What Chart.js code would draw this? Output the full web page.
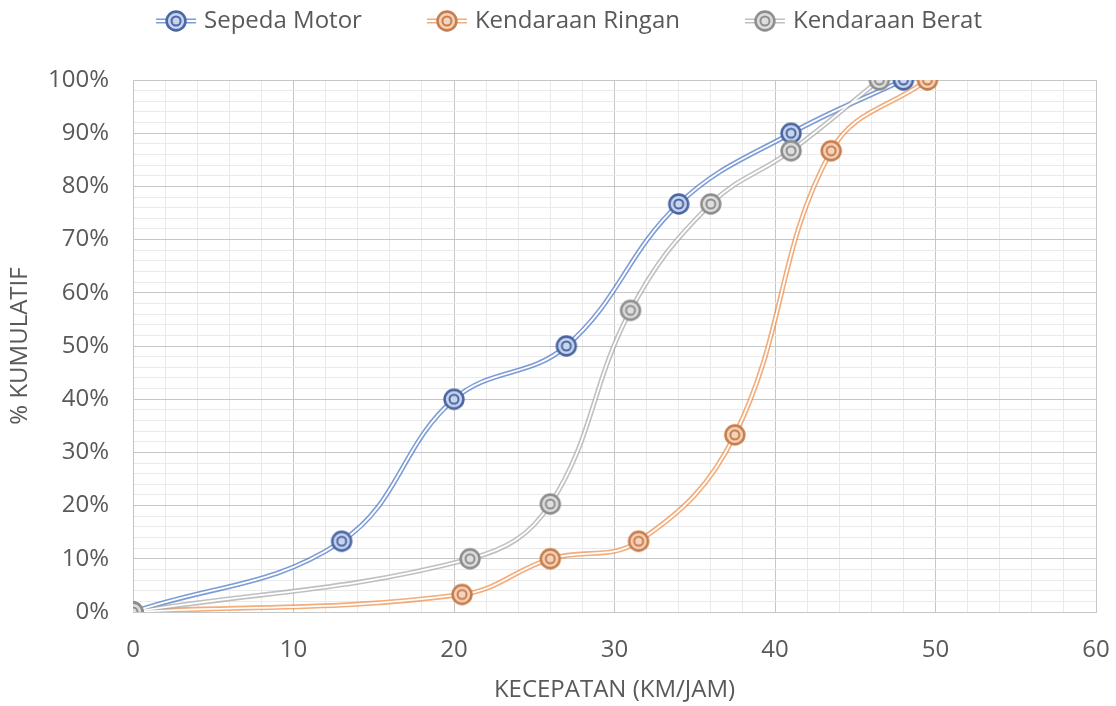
<!DOCTYPE html>
<html>
<head>
<meta charset="utf-8">
<script src="https://cdn.jsdelivr.net/npm/chart.js@4.4.1/dist/chart.umd.min.js"></script>
<style>
  html, body { margin: 0; padding: 0; background: #ffffff; }
  #wrap { width: 1116px; height: 706px; }
</style>
</head>
<body>
<div id="wrap"><canvas id="chart" width="1116" height="706"></canvas></div>
<script>
// Kecepatan (km/jam) dan persentase kumulatif per jenis kendaraan
const seriesNames = ['Sepeda Motor', 'Kendaraan Ringan', 'Kendaraan Berat'];
const speedMotor  = [0, 13, 20, 27, 34, 41, 48];
const cumMotor    = [0, 13.3, 40, 50, 76.7, 90, 100];
const speedRingan = [0, 20.5, 26, 31.5, 37.5, 43.5, 49.5];
const cumRingan   = [0, 3.3, 10, 13.3, 33.3, 86.7, 100];
const speedBerat  = [0, 21, 26, 31, 36, 41, 46.5];
const cumBerat    = [0, 10, 20.3, 56.7, 76.7, 86.7, 100];
const xTickLabels = ['0', '10', '20', '30', '40', '50', '60'];
const yTickLabels = ['0%', '10%', '20%', '30%', '40%', '50%', '60%', '70%', '80%', '90%', '100%'];

const FONT = "'Open Sans', 'Noto Sans', sans-serif";
const FONT_SIZE = 24;
const TEXT = '#595959';

const palette = [
  { line: 'rgba(68,114,196,0.70)', ring: '#4a67a3', fill: '#c9d5ef' },
  { line: 'rgba(237,125,49,0.64)', ring: '#c77d4b', fill: '#f6d3bb' },
  { line: 'rgba(165,165,165,0.70)', ring: '#8e8e8e', fill: '#dedede' }
];

function toPoints(xs, ys) { return xs.map((x, i) => ({ x: x, y: ys[i] })); }

// double-ring marker
function makeMarker(c) {
  const cv = document.createElement('canvas');
  cv.width = 24; cv.height = 24;
  const g = cv.getContext('2d');
  g.beginPath(); g.arc(12, 12, 9.4, 0, Math.PI * 2);
  g.fillStyle = c.fill; g.fill();
  g.lineWidth = 2.6; g.strokeStyle = c.ring; g.stroke();
  g.beginPath(); g.arc(12, 12, 4.5, 0, Math.PI * 2);
  g.lineWidth = 2; g.strokeStyle = c.ring; g.stroke();
  return cv;
}

// legend sample: a double line with the marker, drawn in the right part of a wide canvas
const LEGEND_BOX = 92;
function makeLegendSample(c, marker) {
  const w = 108, h = 24;
  const cv = document.createElement('canvas');
  cv.width = w; cv.height = h;
  const g = cv.getContext('2d');
  const x0 = 64, x1 = 104;
  g.beginPath(); g.moveTo(x0, 12); g.lineTo(x1, 12);
  g.lineWidth = 5; g.strokeStyle = c.line; g.stroke();
  g.beginPath(); g.moveTo(x0, 12); g.lineTo(x1, 12);
  g.lineWidth = 1.8; g.strokeStyle = '#ffffff'; g.stroke();
  g.drawImage(marker, (x0 + x1) / 2 - 12, 0);
  return cv;
}

const series = [
  { xs: speedMotor,  ys: cumMotor },
  { xs: speedRingan, ys: cumRingan },
  { xs: speedBerat,  ys: cumBerat }
];

const markers = palette.map(makeMarker);
const samples = palette.map((c, i) => makeLegendSample(c, markers[i]));

const datasets = [];
series.forEach((s, i) => {
  const pts = toPoints(s.xs, s.ys);
  // outer coloured stroke
  datasets.push({ label: seriesNames[i], data: pts, showLine: true, borderColor: palette[i].line,
    borderWidth: 5, tension: 0.4, pointRadius: 0, fill: false, order: 20 - i });
  // white core gives the double-line look
  datasets.push({ label: seriesNames[i], data: pts, showLine: true, borderColor: '#ffffff',
    borderWidth: 1.8, tension: 0.4, pointRadius: 0, fill: false, order: 10 - i });
  // markers
  datasets.push({ label: seriesNames[i], data: pts, showLine: false,
    pointStyle: markers[i], pointRadius: 10, order: 3 - i });
});

// keeps the legend band at a fixed height and nudges the row a little to the left
const legendBand = {
  id: 'legendBand',
  beforeLayout(chart) {
    const lg = chart.legend;
    if (lg && !lg._bandFit) {
      const fit = lg.fit.bind(lg);
      lg.fit = function () { fit(); this.height = 80; };
      const draw = lg.draw.bind(lg);
      lg.draw = function () {
        const ctx = this.ctx;
        ctx.save(); ctx.translate(-7, 0); draw(); ctx.restore();
      };
      lg._bandFit = true;
    }
  }
};

new Chart(document.getElementById('chart'), {
  type: 'scatter',
  data: { datasets: datasets },
  plugins: [legendBand],
  options: {
    responsive: false,
    animation: false,
    events: [],
    layout: { padding: { left: 0, right: 20, top: 0, bottom: 0 } },
    plugins: {
      tooltip: { enabled: false },
      legend: {
        position: 'top',
        labels: {
          usePointStyle: true,
          pointStyleWidth: LEGEND_BOX,
          color: TEXT,
          font: { family: FONT, size: FONT_SIZE },
          padding: 9,
          generateLabels: () => seriesNames.map((n, i) => ({
            text: n, pointStyle: samples[i], fillStyle: 'transparent',
            strokeStyle: 'transparent', lineWidth: 0, fontColor: TEXT, datasetIndex: i * 3 + 2
          }))
        }
      }
    },
    scales: {
      x: {
        type: 'linear', min: 0, max: 60,
        afterBuildTicks: (sc) => { sc.ticks = []; for (let v = 0; v <= 60; v += 2) sc.ticks.push({ value: v }); },
        ticks: {
          autoSkip: false, maxRotation: 0, color: TEXT, padding: 0,
          font: { family: FONT, size: FONT_SIZE },
          callback: (v) => (v % 10 === 0 ? xTickLabels[v / 10] : '')
        },
        grid: {
          drawTicks: true, tickLength: 24, tickColor: 'rgba(0,0,0,0)',
          color: (ctx) => (ctx.tick && ctx.tick.value % 10 === 0 ? '#c6c6c6' : '#eaeaea'),
          lineWidth: 1
        },
        border: { display: true, color: '#c6c6c6' },
        title: { display: true, text: 'KECEPATAN (KM/JAM)', color: TEXT,
          font: { family: FONT, size: FONT_SIZE }, padding: { top: 6, bottom: 1 } },
        afterFit: (sc) => { sc.height = 94; }
      },
      y: {
        type: 'linear', min: 0, max: 100,
        afterBuildTicks: (sc) => { sc.ticks = []; for (let v = 0; v <= 100; v += 2) sc.ticks.push({ value: v }); },
        ticks: {
          autoSkip: false, color: TEXT, padding: 24,
          font: { family: FONT, size: FONT_SIZE },
          callback: (v) => (v % 10 === 0 ? yTickLabels[v / 10] : '')
        },
        grid: {
          drawTicks: false,
          color: (ctx) => (ctx.tick && ctx.tick.value % 10 === 0 ? '#c6c6c6' : '#eaeaea'),
          lineWidth: 1
        },
        border: { display: true, color: '#c6c6c6' },
        title: { display: true, text: '% KUMULATIF', color: TEXT,
          font: { family: FONT, size: FONT_SIZE }, padding: { top: 6, bottom: 4 } },
        afterFit: (sc) => { sc.width = 133; }
      }
    }
  }
});
</script>
</body>
</html>
